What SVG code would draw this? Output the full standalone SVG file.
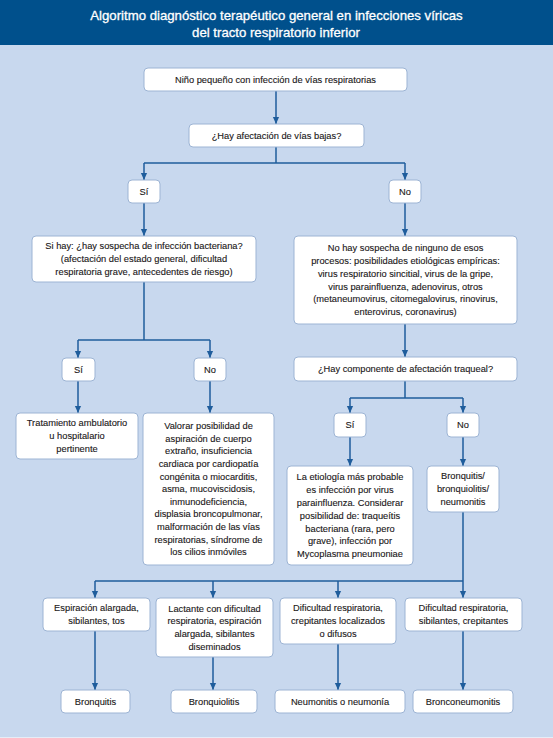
<svg xmlns="http://www.w3.org/2000/svg" width="553" height="738" viewBox="0 0 553 738">
<defs>
<style>
.bg{fill:#c8d8ee}
.hdr{fill:#00508c}
.title{font-family:"Liberation Sans",Arial,sans-serif;font-size:13.2px;fill:#ffffff;stroke:#ffffff;stroke-width:0.3;text-anchor:middle}
.box{fill:#ffffff;stroke:#9db4d4;stroke-width:1}
.t{font-family:"Liberation Sans",Arial,sans-serif;font-size:9.3px;fill:#1a1718;stroke:#1a1718;stroke-width:0.12;text-anchor:middle}
.c{fill:none;stroke:#1f5d9c;stroke-width:1.5}
.a{fill:none;stroke:#1f5d9c;stroke-width:1.5;marker-end:url(#arr)}
</style>
<marker id="arr" markerUnits="userSpaceOnUse" markerWidth="8" markerHeight="8" viewBox="0 0 8 8" refX="7" refY="4" orient="auto">
<path d="M0,0.9 L7,4 L0,7.1 Z" fill="#1f5d9c"/>
</marker>
</defs>
<rect class="bg" x="0" y="0" width="553" height="738"/>
<rect class="hdr" x="0" y="0" width="553" height="45"/>
<rect x="0" y="737" width="553" height="1" fill="#e6edf7"/>
<g id="title">
<text class="title" x="276.5" y="20">Algoritmo diagnóstico terapéutico general en infecciones víricas</text>
<text class="title" x="276" y="36.5">del tracto respiratorio inferior</text>
</g>
<g id="connectors">
<path class="a" d="M276,91 V124"/>
<path class="c" d="M276,147 V163 M144,163 H405"/>
<path class="a" d="M144,163 V180"/>
<path class="a" d="M405,163 V180"/>
<path class="a" d="M144,203 V236"/>
<path class="a" d="M405,203 V236"/>
<path class="c" d="M144,282 V340 M78,340 H210"/>
<path class="a" d="M78,340 V358"/>
<path class="a" d="M210,340 V358"/>
<path class="a" d="M78,381 V413"/>
<path class="a" d="M210,381 V413"/>
<path class="a" d="M405,324 V357"/>
<path class="c" d="M405,381 V398 M350,398 H463"/>
<path class="a" d="M350,398 V413"/>
<path class="a" d="M463,398 V413"/>
<path class="a" d="M350,437 V466"/>
<path class="a" d="M463,437 V466"/>
<path class="c" d="M463,512 V581 M95,581 H463"/>
<path class="a" d="M95,581 V598"/>
<path class="a" d="M213,581 V598"/>
<path class="a" d="M338,581 V598"/>
<path class="a" d="M463,581 V598"/>
<path class="a" d="M95,631 V690"/>
<path class="a" d="M213,657 V690"/>
<path class="a" d="M338,644 V690"/>
<path class="a" d="M463,631 V690"/>
</g>
<g id="n1"><rect class="box" x="144" y="68" width="263" height="23" rx="4"/><text class="t" x="275.5" y="82.7">Niño pequeño con infección de vías respiratorias</text></g>
<g id="n2"><rect class="box" x="189" y="124" width="175" height="23" rx="4"/><text class="t" x="276.5" y="138.7">¿Hay afectación de vías bajas?</text></g>
<g id="si1"><rect class="box" x="128" y="180" width="32" height="23" rx="4"/><text class="t" x="144" y="194.7">Sí</text></g>
<g id="no1"><rect class="box" x="389" y="180" width="32" height="23" rx="4"/><text class="t" x="405" y="194.7">No</text></g>
<g id="n3"><rect class="box" x="32" y="236" width="224" height="46" rx="4"/>
<text class="t" x="144" y="249.4">Si hay: ¿hay sospecha de infección bacteriana?</text>
<text class="t" x="144" y="262.2">(afectación del estado general, dificultad</text>
<text class="t" x="144" y="275">respiratoria grave, antecedentes de riesgo)</text></g>
<g id="n4"><rect class="box" x="294" y="236" width="223" height="88" rx="4"/>
<text class="t" x="405.5" y="251.2">No hay sospecha de ninguno de esos</text>
<text class="t" x="405.5" y="264">procesos: posibilidades etiológicas empíricas:</text>
<text class="t" x="405.5" y="276.8">virus respiratorio sincitial, virus de la gripe,</text>
<text class="t" x="405.5" y="289.6">virus parainfluenza, adenovirus, otros</text>
<text class="t" x="405.5" y="302.4">(metaneumovirus, citomegalovirus, rinovirus,</text>
<text class="t" x="405.5" y="315.2">enterovirus, coronavirus)</text></g>
<g id="si2"><rect class="box" x="62" y="358" width="33" height="23" rx="4"/><text class="t" x="78.5" y="372.7">Sí</text></g>
<g id="no2"><rect class="box" x="194" y="358" width="32" height="23" rx="4"/><text class="t" x="210" y="372.7">No</text></g>
<g id="n5"><rect class="box" x="16" y="413" width="122" height="46" rx="4"/>
<text class="t" x="77" y="426.4">Tratamiento ambulatorio</text>
<text class="t" x="77" y="439.2">u hospitalario</text>
<text class="t" x="77" y="452">pertinente</text></g>
<g id="n6"><rect class="box" x="143" y="413" width="131" height="152" rx="4"/>
<text class="t" x="208.5" y="429.2">Valorar posibilidad de</text>
<text class="t" x="208.5" y="441.8">aspiración de cuerpo</text>
<text class="t" x="208.5" y="454.4">extraño, insuficiencia</text>
<text class="t" x="208.5" y="467">cardiaca por cardiopatía</text>
<text class="t" x="208.5" y="479.6">congénita o miocarditis,</text>
<text class="t" x="208.5" y="492.2">asma, mucoviscidosis,</text>
<text class="t" x="208.5" y="504.8">inmunodeficiencia,</text>
<text class="t" x="208.5" y="517.4">displasia broncopulmonar,</text>
<text class="t" x="208.5" y="530">malformación de las vías</text>
<text class="t" x="208.5" y="542.6">respiratorias, síndrome de</text>
<text class="t" x="208.5" y="555.2">los cilios inmóviles</text></g>
<g id="n7"><rect class="box" x="294" y="357" width="223" height="24" rx="4"/><text class="t" x="405.5" y="372.2">¿Hay componente de afectación traqueal?</text></g>
<g id="si3"><rect class="box" x="334" y="413" width="32" height="24" rx="4"/><text class="t" x="350" y="428.2">Sí</text></g>
<g id="no3"><rect class="box" x="447" y="413" width="32" height="24" rx="4"/><text class="t" x="463" y="428.2">No</text></g>
<g id="n8"><rect class="box" x="287" y="466" width="126" height="99" rx="4"/>
<text class="t" x="350" y="480.3">La etiología más probable</text>
<text class="t" x="350" y="493.1">es infección por virus</text>
<text class="t" x="350" y="505.9">parainfluenza. Considerar</text>
<text class="t" x="350" y="518.7">posibilidad de: traqueítis</text>
<text class="t" x="350" y="531.5">bacteriana (rara, pero</text>
<text class="t" x="350" y="544.3">grave), infección por</text>
<text class="t" x="350" y="557.1">Mycoplasma pneumoniae</text></g>
<g id="n9"><rect class="box" x="427" y="466" width="72" height="46" rx="4"/>
<text class="t" x="463" y="479.4">Bronquitis/</text>
<text class="t" x="463" y="492.2">bronquiolitis/</text>
<text class="t" x="463" y="505">neumonitis</text></g>
<g id="r1"><rect class="box" x="43" y="598" width="107" height="33" rx="4"/>
<text class="t" x="96.5" y="611.3">Espiración alargada,</text>
<text class="t" x="96.5" y="624.1">sibilantes, tos</text></g>
<g id="r2"><rect class="box" x="156" y="598" width="117" height="59" rx="4"/>
<text class="t" x="214.5" y="611.5">Lactante con dificultad</text>
<text class="t" x="214.5" y="624.3">respiratoria, espiración</text>
<text class="t" x="214.5" y="637.1">alargada, sibilantes</text>
<text class="t" x="214.5" y="649.9">diseminados</text></g>
<g id="r3"><rect class="box" x="280" y="598" width="116" height="46" rx="4"/>
<text class="t" x="338" y="611.4">Dificultad respiratoria,</text>
<text class="t" x="338" y="624.2">crepitantes localizados</text>
<text class="t" x="338" y="637">o difusos</text></g>
<g id="r4"><rect class="box" x="405" y="598" width="117" height="33" rx="4"/>
<text class="t" x="463.5" y="611.3">Dificultad respiratoria,</text>
<text class="t" x="463.5" y="624.1">sibilantes, crepitantes</text></g>
<g id="b1"><rect class="box" x="61" y="690" width="69" height="23" rx="4"/><text class="t" x="95.5" y="704.7">Bronquitis</text></g>
<g id="b2"><rect class="box" x="171" y="690" width="86" height="23" rx="4"/><text class="t" x="214" y="704.7">Bronquiolitis</text></g>
<g id="b3"><rect class="box" x="275" y="690" width="130" height="23" rx="4"/><text class="t" x="340" y="704.7">Neumonitis o neumonía</text></g>
<g id="b4"><rect class="box" x="413" y="690" width="100" height="23" rx="4"/><text class="t" x="463" y="704.7">Bronconeumonitis</text></g>
</svg>
